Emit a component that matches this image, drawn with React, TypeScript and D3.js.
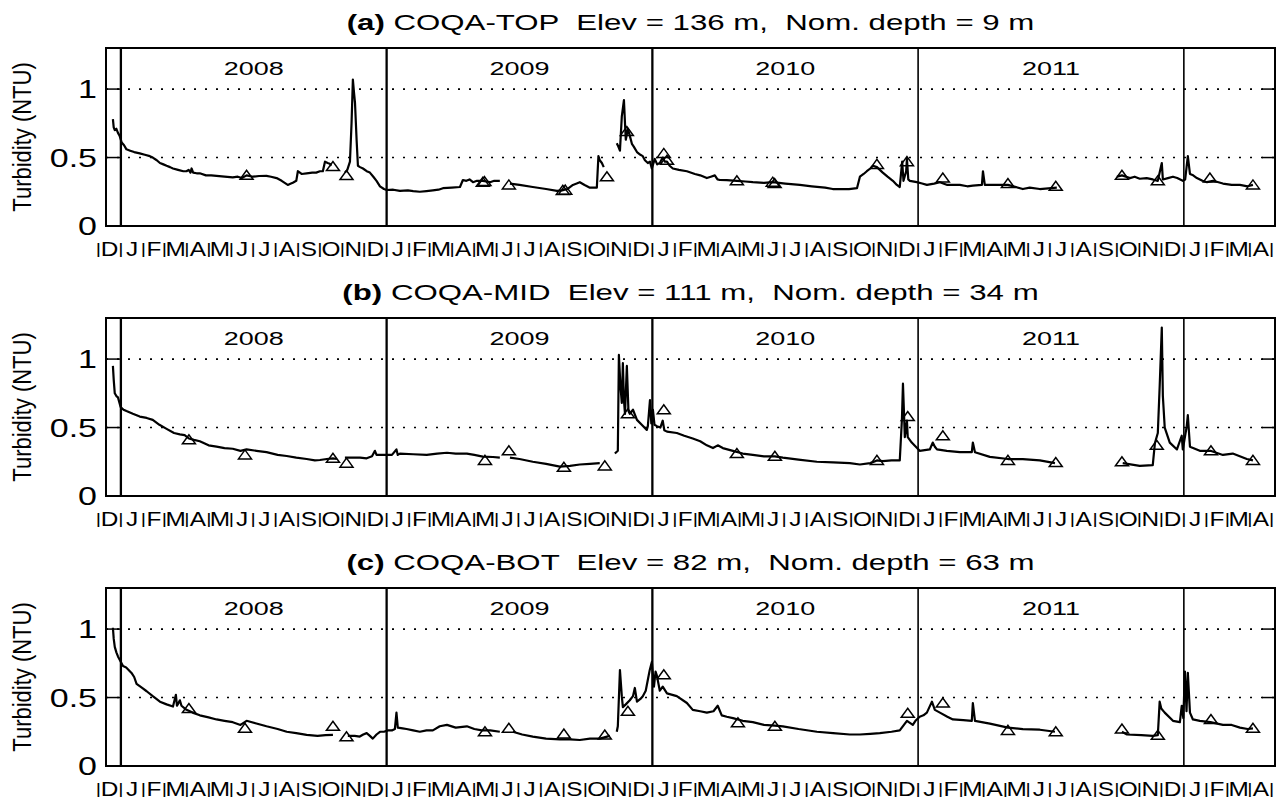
import React from 'react';
import * as d3 from 'd3';

type P = [number, number];
const GAP = NaN;

// time is decimal year, value is turbidity (NTU)
const topLine: P[] = [
  [2007.970, 0.78], [2007.973, 0.72], [2007.977, 0.70], [2007.983, 0.71], [2007.989, 0.68], [2007.995, 0.66],
  [2008.003, 0.61], [2008.012, 0.59], [2008.021, 0.56], [2008.035, 0.55], [2008.050, 0.54], [2008.071, 0.53],
  [2008.090, 0.52], [2008.109, 0.51], [2008.120, 0.50], [2008.135, 0.48], [2008.147, 0.46], [2008.160, 0.45],
  [2008.172, 0.44], [2008.185, 0.43], [2008.196, 0.42], [2008.215, 0.41], [2008.235, 0.40], [2008.247, 0.40],
  [2008.255, 0.41], [2008.262, 0.39], [2008.266, 0.42], [2008.272, 0.39], [2008.285, 0.385], [2008.297, 0.385],
  [2008.320, 0.37], [2008.340, 0.37], [2008.360, 0.366], [2008.390, 0.36], [2008.421, 0.355], [2008.440, 0.36],
  [2008.455, 0.35], [2008.473, 0.37], [2008.497, 0.36], [2008.520, 0.365], [2008.548, 0.366], [2008.565, 0.36],
  [2008.586, 0.35], [2008.605, 0.33], [2008.628, 0.30], [2008.640, 0.31], [2008.647, 0.316], [2008.660, 0.33],
  [2008.666, 0.40], [2008.680, 0.38], [2008.699, 0.385], [2008.720, 0.39], [2008.735, 0.39], [2008.749, 0.40],
  [2008.760, 0.40], [2008.768, 0.47], [2008.778, 0.46], [2008.786, 0.455], [2008.792, 0.44], [2008.80, GAP],
  [2008.843, 0.39], [2008.852, 0.41], [2008.862, 0.47], [2008.868, 0.75], [2008.873, 1.07], [2008.877, 0.98],
  [2008.881, 0.90], [2008.887, 0.63], [2008.892, 0.44], [2008.900, 0.43], [2008.911, 0.42], [2008.925, 0.40],
  [2008.937, 0.39], [2008.950, 0.36], [2008.962, 0.33], [2008.975, 0.29], [2008.990, 0.27], [2009.000, 0.263],
  [2009.025, 0.265], [2009.050, 0.256], [2009.080, 0.26], [2009.100, 0.255], [2009.125, 0.25], [2009.150, 0.255],
  [2009.174, 0.26], [2009.195, 0.265], [2009.212, 0.276], [2009.245, 0.28], [2009.276, 0.285], [2009.287, 0.336],
  [2009.300, 0.33], [2009.312, 0.34], [2009.325, 0.32], [2009.340, 0.33], [2009.362, 0.33], [2009.375, 0.325],
  [2009.389, 0.32], [2009.405, 0.33], [2009.426, 0.33], [2009.44, GAP],
  [2009.464, 0.31], [2009.500, 0.30], [2009.550, 0.285], [2009.600, 0.27], [2009.641, 0.256], [2009.660, 0.26],
  [2009.680, 0.27], [2009.701, 0.30], [2009.715, 0.31], [2009.727, 0.32], [2009.745, 0.30], [2009.765, 0.28],
  [2009.780, 0.28], [2009.791, 0.28], [2009.797, 0.51], [2009.802, 0.48], [2009.810, 0.46], [2009.817, 0.43],
  [2009.84, GAP],
  [2009.866, 0.605], [2009.872, 0.58], [2009.878, 0.55], [2009.885, 0.80], [2009.893, 0.92], [2009.897, 0.75],
  [2009.900, 0.63], [2009.908, 0.71], [2009.915, 0.66], [2009.923, 0.60], [2009.930, 0.58], [2009.942, 0.54],
  [2009.955, 0.52], [2009.964, 0.51], [2009.972, 0.48], [2009.983, 0.46], [2009.991, 0.47], [2009.998, 0.42],
  [2010.009, 0.49], [2010.018, 0.45], [2010.028, 0.46], [2010.039, 0.50], [2010.047, 0.47], [2010.055, 0.47],
  [2010.065, 0.44], [2010.077, 0.42], [2010.100, 0.41], [2010.130, 0.40], [2010.160, 0.38], [2010.180, 0.37],
  [2010.205, 0.35], [2010.220, 0.36], [2010.235, 0.37], [2010.245, 0.34], [2010.254, 0.336], [2010.280, 0.335],
  [2010.318, 0.33], [2010.350, 0.325], [2010.378, 0.32], [2010.420, 0.315], [2010.453, 0.32], [2010.500, 0.31],
  [2010.555, 0.30], [2010.600, 0.29], [2010.650, 0.28], [2010.679, 0.27], [2010.706, 0.27], [2010.740, 0.27],
  [2010.770, 0.276], [2010.781, 0.36], [2010.795, 0.38], [2010.807, 0.40], [2010.820, 0.42], [2010.830, 0.44],
  [2010.845, 0.43], [2010.856, 0.41], [2010.867, 0.39], [2010.885, 0.36], [2010.905, 0.33], [2010.920, 0.30],
  [2010.931, 0.285], [2010.940, 0.47], [2010.945, 0.33], [2010.955, 0.40], [2010.958, 0.49], [2010.963, 0.34],
  [2010.969, 0.33], [2010.995, 0.32], [2011.015, 0.31], [2011.033, 0.30], [2011.060, 0.31], [2011.082, 0.32],
  [2011.110, 0.30], [2011.157, 0.30], [2011.185, 0.29], [2011.206, 0.295], [2011.240, 0.30], [2011.244, 0.40],
  [2011.251, 0.30], [2011.296, 0.30], [2011.338, 0.30], [2011.394, 0.27], [2011.420, 0.28], [2011.458, 0.27],
  [2011.490, 0.275], [2011.522, 0.28], [2011.60, GAP],
  [2011.748, 0.36], [2011.767, 0.37], [2011.797, 0.35], [2011.815, 0.36], [2011.834, 0.345], [2011.860, 0.35],
  [2011.883, 0.34], [2011.902, 0.33], [2011.917, 0.46], [2011.921, 0.34], [2011.940, 0.35], [2011.959, 0.36],
  [2011.975, 0.35], [2011.996, 0.33], [2012.005, 0.34], [2012.015, 0.51], [2012.023, 0.38], [2012.035, 0.37],
  [2012.049, 0.35], [2012.070, 0.33], [2012.087, 0.32], [2012.110, 0.33], [2012.147, 0.31], [2012.180, 0.30],
  [2012.211, 0.30], [2012.240, 0.29], [2012.260, 0.30],
];
const topSamples: P[] = [
  [2008.473, 0.37], [2008.798, 0.434], [2008.849, 0.368], [2009.362, 0.32], [2009.368, 0.325], [2009.460, 0.30],
  [2009.663, 0.26], [2009.672, 0.262], [2009.829, 0.36], [2009.904, 0.69], [2010.043, 0.53], [2010.055, 0.48],
  [2010.318, 0.33], [2010.453, 0.32], [2010.460, 0.31], [2010.845, 0.45], [2010.958, 0.47], [2011.093, 0.35],
  [2011.338, 0.31], [2011.518, 0.29], [2011.767, 0.37], [2011.902, 0.33], [2012.098, 0.35], [2012.260, 0.30],
];

const midLine: P[] = [
  [2007.970, 0.95], [2007.973, 0.85], [2007.977, 0.75], [2007.983, 0.73], [2007.989, 0.72], [2007.999, 0.65],
  [2008.010, 0.63], [2008.021, 0.62], [2008.045, 0.60], [2008.071, 0.58], [2008.097, 0.57], [2008.120, 0.556],
  [2008.145, 0.52], [2008.172, 0.49], [2008.200, 0.46], [2008.222, 0.45], [2008.240, 0.445], [2008.256, 0.42],
  [2008.275, 0.41], [2008.297, 0.40], [2008.330, 0.37], [2008.360, 0.36], [2008.390, 0.35], [2008.421, 0.345],
  [2008.450, 0.33], [2008.473, 0.34], [2008.510, 0.33], [2008.548, 0.32], [2008.590, 0.30], [2008.624, 0.292],
  [2008.660, 0.28], [2008.699, 0.27], [2008.730, 0.26], [2008.749, 0.263], [2008.775, 0.27], [2008.798, 0.275],
  [2008.813, 0.27], [2008.83, GAP],
  [2008.843, 0.28], [2008.860, 0.28], [2008.873, 0.28], [2008.900, 0.28], [2008.925, 0.275], [2008.945, 0.29],
  [2008.956, 0.33], [2008.962, 0.30], [2008.980, 0.30], [2009.000, 0.30], [2009.020, 0.30], [2009.037, 0.34],
  [2009.042, 0.30], [2009.050, 0.31], [2009.100, 0.305], [2009.151, 0.30], [2009.190, 0.31], [2009.227, 0.316],
  [2009.260, 0.31], [2009.302, 0.31], [2009.330, 0.30], [2009.362, 0.288], [2009.400, 0.285], [2009.426, 0.28],
  [2009.44, GAP],
  [2009.464, 0.28], [2009.500, 0.27], [2009.550, 0.25], [2009.600, 0.235], [2009.652, 0.214], [2009.690, 0.22],
  [2009.727, 0.23], [2009.765, 0.235], [2009.802, 0.24], [2009.83, GAP],
  [2009.859, 0.31], [2009.870, 0.33], [2009.874, 1.03], [2009.880, 0.80], [2009.885, 0.68], [2009.889, 0.97],
  [2009.893, 0.70], [2009.897, 0.60], [2009.904, 0.95], [2009.910, 0.62], [2009.915, 0.60], [2009.927, 0.63],
  [2009.942, 0.556], [2009.960, 0.52], [2009.979, 0.483], [2009.983, 0.51], [2009.991, 0.70], [2009.996, 0.53],
  [2010.002, 0.63], [2010.008, 0.52], [2010.017, 0.51], [2010.030, 0.50], [2010.039, 0.55], [2010.045, 0.48],
  [2010.055, 0.47], [2010.092, 0.46], [2010.120, 0.44], [2010.152, 0.42], [2010.180, 0.40], [2010.205, 0.37],
  [2010.228, 0.35], [2010.246, 0.37], [2010.265, 0.35], [2010.303, 0.33], [2010.340, 0.31], [2010.378, 0.30],
  [2010.420, 0.29], [2010.461, 0.29], [2010.491, 0.28], [2010.550, 0.265], [2010.619, 0.25], [2010.680, 0.245],
  [2010.743, 0.24], [2010.781, 0.23], [2010.820, 0.24], [2010.845, 0.26], [2010.867, 0.255], [2010.900, 0.26],
  [2010.931, 0.26], [2010.939, 0.556], [2010.943, 0.82], [2010.950, 0.43], [2010.958, 0.55], [2010.961, 0.43],
  [2010.976, 0.39], [2011.006, 0.33], [2011.044, 0.34], [2011.055, 0.39], [2011.063, 0.36], [2011.071, 0.34],
  [2011.108, 0.33], [2011.157, 0.32], [2011.202, 0.32], [2011.206, 0.39], [2011.214, 0.32], [2011.270, 0.286],
  [2011.338, 0.27], [2011.394, 0.27], [2011.458, 0.26], [2011.515, 0.24], [2011.60, GAP],
  [2011.770, 0.24], [2011.834, 0.22], [2011.883, 0.225], [2011.891, 0.385], [2011.902, 0.46], [2011.909, 0.80],
  [2011.917, 1.23], [2011.921, 0.73], [2011.928, 0.50], [2011.947, 0.39], [2011.974, 0.34], [2011.992, 0.44],
  [2011.996, 0.34], [2012.011, 0.51], [2012.015, 0.59], [2012.023, 0.36], [2012.060, 0.33], [2012.100, 0.33],
  [2012.147, 0.30], [2012.184, 0.31], [2012.237, 0.27], [2012.260, 0.26],
];
const midSamples: P[] = [
  [2008.256, 0.41], [2008.467, 0.30], [2008.798, 0.275], [2008.849, 0.24], [2009.370, 0.26], [2009.460, 0.33],
  [2009.667, 0.21], [2009.821, 0.22], [2009.908, 0.60], [2010.043, 0.63], [2010.318, 0.31], [2010.461, 0.29],
  [2010.845, 0.26], [2010.961, 0.58], [2011.093, 0.44], [2011.338, 0.26], [2011.518, 0.245], [2011.767, 0.25],
  [2011.898, 0.37], [2012.102, 0.33], [2012.260, 0.26],
];

const botLine: P[] = [
  [2007.970, 1.01], [2007.973, 0.93], [2007.977, 0.87], [2007.983, 0.83], [2007.989, 0.80], [2008.000, 0.76],
  [2008.008, 0.73], [2008.020, 0.72], [2008.040, 0.68], [2008.050, 0.65], [2008.059, 0.60], [2008.080, 0.57],
  [2008.097, 0.546], [2008.120, 0.51], [2008.147, 0.47], [2008.172, 0.45], [2008.196, 0.434], [2008.207, 0.52],
  [2008.211, 0.44], [2008.214, 0.45], [2008.222, 0.48], [2008.228, 0.44], [2008.247, 0.41], [2008.270, 0.39],
  [2008.297, 0.37], [2008.330, 0.355], [2008.360, 0.34], [2008.390, 0.33], [2008.421, 0.32], [2008.450, 0.30],
  [2008.473, 0.33], [2008.510, 0.31], [2008.548, 0.29], [2008.590, 0.27], [2008.624, 0.25], [2008.660, 0.24],
  [2008.699, 0.227], [2008.740, 0.22], [2008.770, 0.225], [2008.798, 0.227], [2008.83, GAP],
  [2008.854, 0.22], [2008.880, 0.22], [2008.899, 0.215], [2008.912, 0.23], [2008.925, 0.24], [2008.937, 0.22],
  [2008.948, 0.20], [2008.962, 0.23], [2008.975, 0.25], [2008.990, 0.25], [2009.005, 0.26], [2009.020, 0.26],
  [2009.031, 0.27], [2009.037, 0.39], [2009.042, 0.28], [2009.060, 0.275], [2009.075, 0.27], [2009.100, 0.26],
  [2009.125, 0.25], [2009.150, 0.26], [2009.174, 0.26], [2009.200, 0.29], [2009.227, 0.30], [2009.260, 0.28],
  [2009.302, 0.29], [2009.330, 0.27], [2009.358, 0.26], [2009.390, 0.26], [2009.426, 0.25], [2009.45, GAP],
  [2009.475, 0.25], [2009.510, 0.23], [2009.550, 0.215], [2009.600, 0.20], [2009.652, 0.195], [2009.690, 0.195],
  [2009.727, 0.19], [2009.765, 0.20], [2009.802, 0.20], [2009.840, 0.22], [2009.85, GAP],
  [2009.866, 0.25], [2009.870, 0.29], [2009.878, 0.70], [2009.885, 0.51], [2009.889, 0.43], [2009.900, 0.45],
  [2009.915, 0.48], [2009.927, 0.51], [2009.934, 0.57], [2009.942, 0.47], [2009.955, 0.49], [2009.964, 0.51],
  [2009.975, 0.55], [2009.983, 0.63], [2009.990, 0.70], [2009.998, 0.76], [2010.006, 0.58], [2010.012, 0.69],
  [2010.017, 0.66], [2010.028, 0.55], [2010.039, 0.58], [2010.055, 0.53], [2010.092, 0.51], [2010.130, 0.46],
  [2010.152, 0.41], [2010.180, 0.40], [2010.205, 0.39], [2010.230, 0.40], [2010.246, 0.44], [2010.261, 0.37],
  [2010.280, 0.36], [2010.303, 0.35], [2010.340, 0.33], [2010.378, 0.32], [2010.420, 0.30], [2010.461, 0.295],
  [2010.491, 0.29], [2010.550, 0.27], [2010.619, 0.25], [2010.680, 0.24], [2010.743, 0.23], [2010.781, 0.23],
  [2010.820, 0.235], [2010.856, 0.24], [2010.900, 0.25], [2010.931, 0.26], [2010.958, 0.33], [2010.965, 0.32],
  [2010.980, 0.30], [2010.990, 0.33], [2011.006, 0.36], [2011.020, 0.37], [2011.033, 0.39], [2011.052, 0.47],
  [2011.063, 0.41], [2011.082, 0.39], [2011.110, 0.36], [2011.131, 0.34], [2011.170, 0.335], [2011.202, 0.33],
  [2011.206, 0.46], [2011.214, 0.33], [2011.270, 0.31], [2011.338, 0.28], [2011.394, 0.27], [2011.458, 0.265],
  [2011.515, 0.25], [2011.60, GAP],
  [2011.767, 0.25], [2011.786, 0.23], [2011.840, 0.225], [2011.883, 0.22], [2011.902, 0.225], [2011.909, 0.47],
  [2011.915, 0.42], [2011.928, 0.39], [2011.959, 0.33], [2011.985, 0.32], [2011.992, 0.44], [2011.998, 0.35],
  [2012.004, 0.69], [2012.010, 0.40], [2012.015, 0.68], [2012.023, 0.39], [2012.034, 0.34], [2012.060, 0.33],
  [2012.100, 0.32], [2012.147, 0.30], [2012.180, 0.30], [2012.211, 0.28], [2012.240, 0.27], [2012.260, 0.275],
];
const botSamples: P[] = [
  [2008.256, 0.42], [2008.467, 0.276], [2008.798, 0.29], [2008.849, 0.214], [2009.370, 0.25], [2009.460, 0.275],
  [2009.667, 0.233], [2009.821, 0.226], [2009.908, 0.40], [2010.043, 0.666], [2010.322, 0.316], [2010.461, 0.29],
  [2010.961, 0.385], [2011.093, 0.46], [2011.338, 0.26], [2011.518, 0.25], [2011.767, 0.27], [2011.902, 0.225],
  [2012.102, 0.34], [2012.260, 0.276],
];

const panelTags = ['(a)', '(b)', '(c)'];
const panelNames = ['COQA-TOP', 'COQA-MID', 'COQA-BOT'];
const panelElev = [136, 111, 82];
const panelDepth = [9, 34, 63];
const yearLabels = ['2008', '2009', '2010', '2011'];
const yearBounds = [2008, 2009, 2010, 2011, 2012];
const yTicks = [0, 0.5, 1];
const yTickLabels = ['0', '0.5', '1'];
const gridValues = [0.5, 1];
const monthLetters = ['J', 'F', 'M', 'A', 'M', 'J', 'J', 'A', 'S', 'O', 'N', 'D'];
const timeDomain: [number, number] = [2007.944, 2012.343];
const yDomain: [number, number] = [0, 1.3];
const monthStart = new Date(2007, 11, 1);
const monthEnd = new Date(2012, 4, 1);

const lines = [topLine, midLine, botLine];
const samples = [topSamples, midSamples, botSamples];

const FONT = '"Liberation Sans", Arial, Helvetica, sans-serif';
const L = 106, R = 1275, PH = 178;
const tops = [48, 318, 588];
const SX = 1.42;

function toDec(d: Date): number {
  const y = d.getFullYear();
  const a = new Date(y, 0, 1).getTime();
  const b = new Date(y + 1, 0, 1).getTime();
  return y + (d.getTime() - a) / (b - a);
}

function SText(props: { x: number; y: number; sx?: number; size: number; anchor?: string; children: React.ReactNode }) {
  const { x, y, sx = SX, size, anchor = 'middle', children } = props;
  return (
    <text
      transform={`translate(${x},${y}) scale(${sx},1)`}
      fontSize={size}
      fontFamily={FONT}
      textAnchor={anchor}
      style={{ whiteSpace: 'pre' }}
      fill="#000"
    >
      {children}
    </text>
  );
}

export default function App() {
  const x = d3.scaleLinear().domain(timeDomain).range([L, R]);
  const months = d3.timeMonth.range(monthStart, monthEnd);
  const bars = d3.timeMonth.range(monthStart, d3.timeMonth.offset(monthEnd, 1));

  return (
    <svg width={1279} height={803} style={{ position: 'absolute', left: 0, top: 0, background: '#fff', display: 'block' }}>
      <rect x={0} y={0} width={1279} height={803} fill="#fff" />
      <defs>
        {tops.map((t, i) => (
          <clipPath id={`clip${i}`} key={i}>
            <rect x={L} y={t} width={R - L} height={PH} />
          </clipPath>
        ))}
      </defs>
      {tops.map((top, i) => {
        const bottom = top + PH;
        const y = d3.scaleLinear().domain(yDomain).range([bottom, top]);
        const line = d3
          .line<P>()
          .defined((d) => !isNaN(d[1]))
          .x((d) => x(d[0]))
          .y((d) => y(d[1]));
        const midX = (L + R) / 2;
        return (
          <g key={i}>
            <text
              transform={`translate(${midX},${top - 18}) scale(${SX},1)`}
              fontSize={22}
              fontFamily={FONT}
              textAnchor="middle"
              style={{ whiteSpace: 'pre' }}
            >
              <tspan fontWeight="bold">{panelTags[i]}</tspan>
              {` ${panelNames[i]}  Elev = ${panelElev[i]} m,  Nom. depth = ${panelDepth[i]} m`}
            </text>
            {gridValues.map((g) => (
              <line key={g} x1={L} x2={R} y1={y(g)} y2={y(g)} stroke="#000" strokeWidth={1.6} strokeDasharray="2 9" />
            ))}
            {yearBounds.map((yb, k) => (
              <line
                key={yb}
                x1={x(yb)}
                x2={x(yb)}
                y1={top}
                y2={bottom}
                stroke="#000"
                strokeWidth={k < 3 ? 2.3 : 1.6}
              />
            ))}
            {yearLabels.map((lab, k) => (
              <SText key={lab} x={x(yearBounds[k] + 0.5)} y={top + 27} size={19}>
                {lab}
              </SText>
            ))}
            <g clipPath={`url(#clip${i})`}>
              <path d={line(lines[i]) || ''} fill="none" stroke="#000" strokeWidth={2.2} strokeLinejoin="round" />
              {samples[i].map((s, k) => {
                const cx = x(s[0]);
                const cy = y(s[1]);
                return (
                  <path
                    key={k}
                    d={`M${cx - 6.5},${cy + 4}L${cx + 6.5},${cy + 4}L${cx},${cy - 5}Z`}
                    fill="none"
                    stroke="#000"
                    strokeWidth={1.5}
                  />
                );
              })}
            </g>
            <rect x={L} y={top} width={R - L} height={PH} fill="none" stroke="#000" strokeWidth={2} />
            {gridValues.map((g) => (
              <g key={'t' + g}>
                <line x1={L} x2={L + 14} y1={y(g)} y2={y(g)} stroke="#000" strokeWidth={1.5} />
                <line x1={R - 13} x2={R} y1={y(g)} y2={y(g)} stroke="#000" strokeWidth={1.5} />
              </g>
            ))}
            {yTicks.map((v, k) => (
              <SText key={v} x={97} y={y(v) + 9} size={25} sx={1.36} anchor="end">
                {yTickLabels[k]}
              </SText>
            ))}
            <text
              transform={`translate(31,${top + PH / 2}) scale(1.2,1) rotate(-90)`}
              fontSize={22}
              fontFamily={FONT}
              textAnchor="middle"
            >
              Turbidity (NTU)
            </text>
            {months.map((m, k) => {
              const a = toDec(m);
              const b = toDec(d3.timeMonth.offset(m, 1));
              return (
                <SText key={'m' + k} x={x((a + b) / 2)} y={bottom + 30} size={20} sx={1.22}>
                  {monthLetters[m.getMonth()]}
                </SText>
              );
            })}
            {bars.map((m, k) => (
              <SText key={'b' + k} x={x(toDec(m))} y={bottom + 27.5} size={15.5} sx={1.3}>
                |
              </SText>
            ))}
          </g>
        );
      })}
    </svg>
  );
}
